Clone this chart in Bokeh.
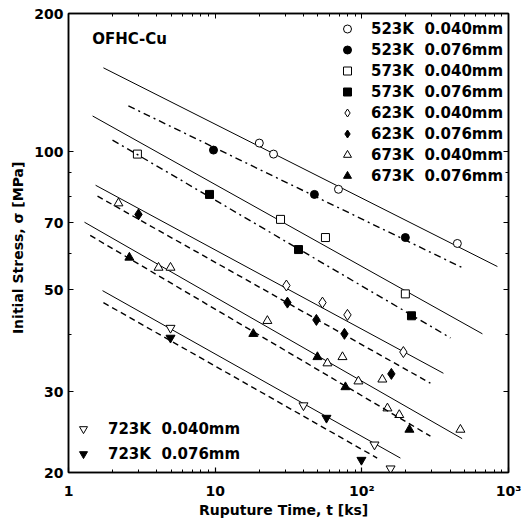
from bokeh.plotting import figure
from bokeh.models import Legend, LegendItem, LogAxis, FixedTicker, Label, ColumnDataSource
from bokeh.embed import file_html
from bokeh.resources import INLINE

# ---- data: rupture time t [ks] and initial stress sigma [MPa] ----
t_523_040 = [20.0, 25.0, 69.3, 448]
s_523_040 = [104.4, 98.8, 82.8, 63.1]
t_523_076 = [9.74, 47.5, 198]
s_523_076 = [100.8, 80.7, 65.0]
t_573_040 = [2.95, 27.9, 56.5, 198]
s_573_040 = [98.8, 71.2, 65.0, 49.0]
t_573_076 = [9.15, 37.0, 218]
s_573_076 = [80.7, 61.2, 43.9]
t_623_040 = [30.6, 53.9, 79.8, 192]
s_623_040 = [51.1, 46.9, 44.1, 36.6]
t_623_076 = [3.0, 31.1, 49.0, 76.1, 159]
s_623_076 = [73.0, 46.9, 43.0, 40.1, 32.8]
t_673_040 = [2.19, 4.11, 4.96, 22.7, 58.3, 73.8, 94.8, 138, 149.5, 180, 470]
s_673_040 = [77.2, 55.9, 55.9, 42.8, 34.6, 35.7, 31.6, 31.9, 27.6, 26.7, 24.8]
t_673_076 = [2.60, 18.2, 49.8, 77.3, 211]
s_673_076 = [58.8, 40.1, 35.7, 30.7, 24.8]
t_723_040 = [4.96, 40.0, 122, 157]
s_723_040 = [41.3, 28.0, 23.0, 20.4]
t_723_076 = [4.96, 57.4, 99.4]
s_723_076 = [39.3, 26.3, 21.3]

# fitted lines: end points (t0, t1), (s0, s1)
fit_t_523_040 = [1.73, 840]
fit_s_523_040 = [152.3, 56.2]
fit_t_523_076 = [2.56, 500]
fit_s_523_076 = [125.8, 55.6]
fit_t_573_040 = [1.46, 664]
fit_s_573_040 = [119.6, 40.1]
fit_t_573_076 = [1.995, 402]
fit_s_573_076 = [106.0, 39.3]
fit_t_623_040 = [1.53, 360]
fit_s_623_040 = [84.5, 32.9]
fit_t_623_076 = [1.577, 293.5]
fit_s_623_076 = [80.0, 31.3]
fit_t_673_040 = [1.285, 483]
fit_s_673_040 = [70.2, 23.7]
fit_t_673_076 = [1.406, 293.5]
fit_s_673_076 = [65.7, 24.0]
fit_t_723_040 = [1.706, 183.3]
fit_s_723_040 = [49.8, 21.5]
fit_t_723_076 = [1.73, 127.2]
fit_s_723_076 = [46.9, 21.5]

labels = ["523K  0.040mm", "523K  0.076mm", "573K  0.040mm", "573K  0.076mm",
          "623K  0.040mm", "623K  0.076mm", "673K  0.040mm", "673K  0.076mm",
          "723K  0.040mm", "723K  0.076mm"]
x_tick_values = [1, 10, 100, 1000]
x_tick_labels = ["1", "10", "10\u00b2", "10\u00b3"]
y_tick_values = [20, 30, 50, 70, 100, 200]
y_minor_values = [40, 60, 80, 90]

pts = [(t_523_040, s_523_040), (t_523_076, s_523_076), (t_573_040, s_573_040),
       (t_573_076, s_573_076), (t_623_040, s_623_040), (t_623_076, s_623_076),
       (t_673_040, s_673_040), (t_673_076, s_673_076), (t_723_040, s_723_040),
       (t_723_076, s_723_076)]
fits = [(fit_t_523_040, fit_s_523_040), (fit_t_523_076, fit_s_523_076),
        (fit_t_573_040, fit_s_573_040), (fit_t_573_076, fit_s_573_076),
        (fit_t_623_040, fit_s_623_040), (fit_t_623_076, fit_s_623_076),
        (fit_t_673_040, fit_s_673_040), (fit_t_673_076, fit_s_673_076),
        (fit_t_723_040, fit_s_723_040), (fit_t_723_076, fit_s_723_076)]
markers = ["circle", "circle", "square", "square", "diamond", "diamond",
           "triangle", "triangle", "inverted_triangle", "inverted_triangle"]
sizes = [8, 8, 8, 8, 11, 11, 9, 9, 9, 9]

FONT = "DejaVu Sans"

p = figure(width=525, height=525, x_axis_type="log", y_axis_type="log",
           x_range=(1, 1000), y_range=(20, 200), output_backend="svg",
           toolbar_location=None, min_border_left=68, min_border_right=17,
           min_border_top=13, min_border_bottom=53)
p.xgrid.grid_line_color = None
p.ygrid.grid_line_color = None
p.outline_line_color = "black"
p.outline_line_width = 1.5

xt = FixedTicker(ticks=x_tick_values,
                 minor_ticks=[m * d for d in [1, 10, 100] for m in range(2, 10)])
yt = FixedTicker(ticks=y_tick_values, minor_ticks=y_minor_values)

p.xaxis.ticker = xt
p.yaxis.ticker = yt
p.xaxis.major_label_overrides = {float(v): s for v, s in zip(x_tick_values, x_tick_labels)}

for ax in [p.xaxis[0], p.yaxis[0]]:
    ax.major_tick_in = 5
    ax.major_tick_out = 0
    ax.minor_tick_in = 3
    ax.minor_tick_out = 0
    ax.axis_line_width = 1.5
    ax.major_tick_line_width = 1.2
    ax.major_label_text_font = FONT
    ax.major_label_text_font_style = "bold"
    ax.major_label_text_font_size = "14px"
    ax.major_label_text_color = "black"
    ax.axis_label_text_font = FONT
    ax.axis_label_text_font_style = "bold"
    ax.axis_label_text_font_size = "14px"
    ax.axis_label_text_color = "black"

p.xaxis.axis_label = "Ruputure  Time, t  [ks]"
p.yaxis.axis_label = "Initial  Stress, \u03c3  [MPa]"
p.xaxis.major_label_standoff = 10
p.xaxis.axis_label_standoff = 0
p.yaxis.major_label_standoff = 5
p.yaxis.axis_label_standoff = 5

top = LogAxis(ticker=xt, major_tick_in=5, major_tick_out=0, minor_tick_in=3,
              minor_tick_out=0, major_label_text_font_size="2px",
              major_label_text_color=None,
              major_label_standoff=0, axis_line_width=1.5)
right = LogAxis(ticker=yt, major_tick_in=5, major_tick_out=0, minor_tick_in=3,
                minor_tick_out=0, major_label_text_font_size="2px",
                major_label_text_color=None,
                major_label_standoff=0, axis_line_width=1.5)
p.add_layout(top, "above")
p.add_layout(right, "right")

renderers = []
for i, ((tx, sy), (ft, fs), mk, sz) in enumerate(zip(pts, fits, markers, sizes)):
    dashed = (i % 2 == 1)
    if dashed:
        dash = "7 4 2 4" if i < 4 else "6 4"
        p.line(ft, fs, line_color="black", line_width=1.4, line_dash=dash)
    else:
        p.line(ft, fs, line_color="black", line_width=1.0)
    src = ColumnDataSource(dict(t=tx, s=sy))
    r = p.scatter("t", "s", source=src, marker=mk, size=sz, line_color="black",
                  line_width=1.0, fill_color=("black" if dashed else "white"))
    renderers.append(r)

common = dict(border_line_color=None, background_fill_alpha=0, padding=0,
              margin=0, spacing=0, glyph_width=20,
              label_text_font=FONT, label_text_font_style="bold",
              label_text_font_size="15px", label_text_color="black")

leg1 = Legend(items=[LegendItem(label=labels[i], renderers=[renderers[i]]) for i in range(8)],
              location=(269, 286), glyph_height=21, label_height=21,
              label_standoff=14, **common)
leg2 = Legend(items=[LegendItem(label=labels[i], renderers=[renderers[i]]) for i in range(8, 10)],
              location=(5, 6), glyph_height=25, label_height=25,
              label_standoff=15, **common)
p.add_layout(leg1)
p.add_layout(leg2)

p.add_layout(Label(x=1.45, y=176, text="OFHC-Cu", text_font=FONT,
                   text_font_style="bold", text_font_size="15px",
                   text_baseline="middle", text_color="black"))

open("out.html", "w").write(file_html(p, INLINE))
